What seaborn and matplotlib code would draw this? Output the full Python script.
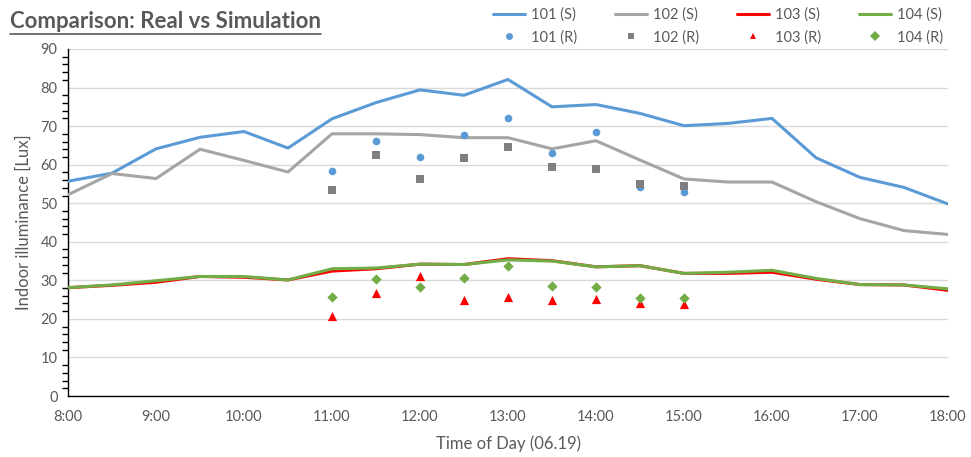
import numpy as np
import pandas as pd
import matplotlib.pyplot as plt
import seaborn as sns
from matplotlib.lines import Line2D
from matplotlib.ticker import MultipleLocator

# --- donnees ---
HEURES_SIM = [8.0, 8.5, 9.0, 9.5, 10.0, 10.5, 11.0, 11.5, 12.0, 12.5, 13.0,
              13.5, 14.0, 14.5, 15.0, 15.5, 16.0, 16.5, 17.0, 17.5, 18.0]
SIM_101 = [55.7, 57.8, 64.1, 67.1, 68.6, 64.3, 71.9, 76.1, 79.4, 78.0, 82.1,
           75.0, 75.6, 73.3, 70.1, 70.7, 72.0, 61.8, 56.7, 54.1, 49.8]
SIM_102 = [52.2, 57.7, 56.4, 64.0, 61.1, 58.1, 68.0, 68.0, 67.8, 67.0, 67.0,
           64.1, 66.2, 61.2, 56.3, 55.5, 55.5, 50.4, 46.0, 42.9, 41.9]
SIM_103 = [28.1, 28.7, 29.5, 31.0, 30.8, 30.1, 32.4, 33.0, 34.2, 34.1, 35.6,
           35.1, 33.5, 33.8, 31.8, 31.8, 32.1, 30.3, 28.9, 28.8, 27.4]
SIM_104 = [28.1, 28.8, 29.9, 31.0, 31.0, 30.1, 33.0, 33.2, 34.2, 34.1, 35.3,
           35.0, 33.5, 33.8, 31.8, 32.1, 32.6, 30.5, 28.9, 28.8, 27.8]

HEURES_REEL = [11.0, 11.5, 12.0, 12.5, 13.0, 13.5, 14.0, 14.5, 15.0]
REEL_101 = [58.3, 66.1, 62.0, 67.6, 72.2, 62.9, 68.4, 54.1, 52.8]
REEL_102 = [53.3, 62.6, 56.3, 61.8, 64.6, 59.3, 58.9, 55.1, 54.4]
REEL_103 = [20.8, 26.7, 31.1, 24.9, 25.7, 24.9, 25.1, 24.0, 23.8]
REEL_104 = [25.6, 30.4, 28.2, 30.6, 33.6, 28.6, 28.4, 25.5, 25.3]

TICKS_X = list(range(8, 19))
LABELS_X = [f"{h}:00" for h in TICKS_X]

COULEURS = {'101': '#5B9BD5', '102': '#A5A5A5', '103': '#FF0000', '104': '#70AD47'}
COULEURS_REEL = {'101': '#5B9BD5', '102': '#7F7F7F', '103': '#FF0000', '104': '#70AD47'}
MARQUEURS = {'101': 'o', '102': 's', '103': '^', '104': 'D'}
TAILLES = {'101': 30, '102': 26, '103': 44, '104': 28}

sns.set_theme(style="white")
plt.rcParams['font.family'] = ['Lato', 'DejaVu Sans']
GRIS_TXT = '#595959'

df_sim = pd.DataFrame({'Heure': HEURES_SIM * 4,
                       'Lux': SIM_101 + SIM_102 + SIM_103 + SIM_104,
                       'Salle': [s for s in ['101', '102', '103', '104'] for _ in HEURES_SIM]})
df_reel = pd.DataFrame({'Heure': HEURES_REEL * 4,
                        'Lux': REEL_101 + REEL_102 + REEL_103 + REEL_104,
                        'Salle': [s for s in ['101', '102', '103', '104'] for _ in HEURES_REEL]})

fig = plt.figure(figsize=(9.71, 4.57), dpi=100)
ax = fig.add_axes([68 / 971, 1 - 396 / 457, 880 / 971, 347 / 457])

for y in range(10, 100, 10):
    ax.axhline(y, color='#D9D9D9', linewidth=1, zorder=0)

sns.lineplot(data=df_sim, x='Heure', y='Lux', hue='Salle', palette=COULEURS,
             linewidth=2.2, ax=ax, legend=False, zorder=3)
for salle in ['101', '102', '103', '104']:
    sub = df_reel[df_reel['Salle'] == salle]
    sns.scatterplot(data=sub, x='Heure', y='Lux', color=COULEURS_REEL[salle],
                    marker=MARQUEURS[salle], s=TAILLES[salle], linewidth=0,
                    ax=ax, legend=False, zorder=4)

ax.set_xlim(8, 18)
ax.set_ylim(0, 90)
ax.set_xticks(TICKS_X)
ax.set_xticklabels(LABELS_X)
ax.set_yticks(range(0, 100, 10))
ax.yaxis.set_minor_locator(MultipleLocator(2))
ax.tick_params(axis='y', which='major', direction='inout', length=8, width=1, colors='black',
               labelcolor=GRIS_TXT, labelsize=10.5)
ax.tick_params(axis='y', which='minor', direction='out', length=4, width=1, colors='black', left=True)
ax.tick_params(axis='x', which='major', direction='in', length=5, width=1, colors='black',
               labelcolor=GRIS_TXT, labelsize=10.5, pad=10)
for s in ['top', 'right']:
    ax.spines[s].set_visible(False)
for s in ['left', 'bottom']:
    ax.spines[s].set_color('black')
    ax.spines[s].set_linewidth(1)

ax.set_xlabel("Time of Day (06.19)", color=GRIS_TXT, fontsize=12, labelpad=8)
ax.set_ylabel("Indoor illuminance [Lux]", color=GRIS_TXT, fontsize=12, labelpad=6)

# legende : ligne simulation au-dessus, points reels en-dessous
handles, labels = [], []
for salle in ['101', '102', '103', '104']:
    handles.append(Line2D([], [], color=COULEURS[salle], linewidth=2.2))
    labels.append(f"{salle} (S)")
    handles.append(Line2D([], [], color=COULEURS_REEL[salle], marker=MARQUEURS[salle],
                          linestyle='none', markersize=5, markeredgewidth=0))
    labels.append(f"{salle} (R)")
fig.legend(handles, labels, ncol=4, loc='upper right', bbox_to_anchor=(0.985, 1.012),
           frameon=False, fontsize=10.5, handlelength=2.2, columnspacing=2.6,
           labelspacing=0.55, handletextpad=0.4, labelcolor=GRIS_TXT)

titre = fig.text(10 / 971, 1 - 28 / 457, "Comparison: Real vs Simulation", fontsize=16,
                 fontweight='bold', color=GRIS_TXT, ha='left', va='baseline')
fig.canvas.draw()
bb = titre.get_window_extent()
fig.add_artist(Line2D([bb.x0 / fig.bbox.width, bb.x1 / fig.bbox.width],
                      [(bb.y0 - 2) / fig.bbox.height] * 2, color=GRIS_TXT, linewidth=1.2))

fig.savefig("out.png", dpi=100)
